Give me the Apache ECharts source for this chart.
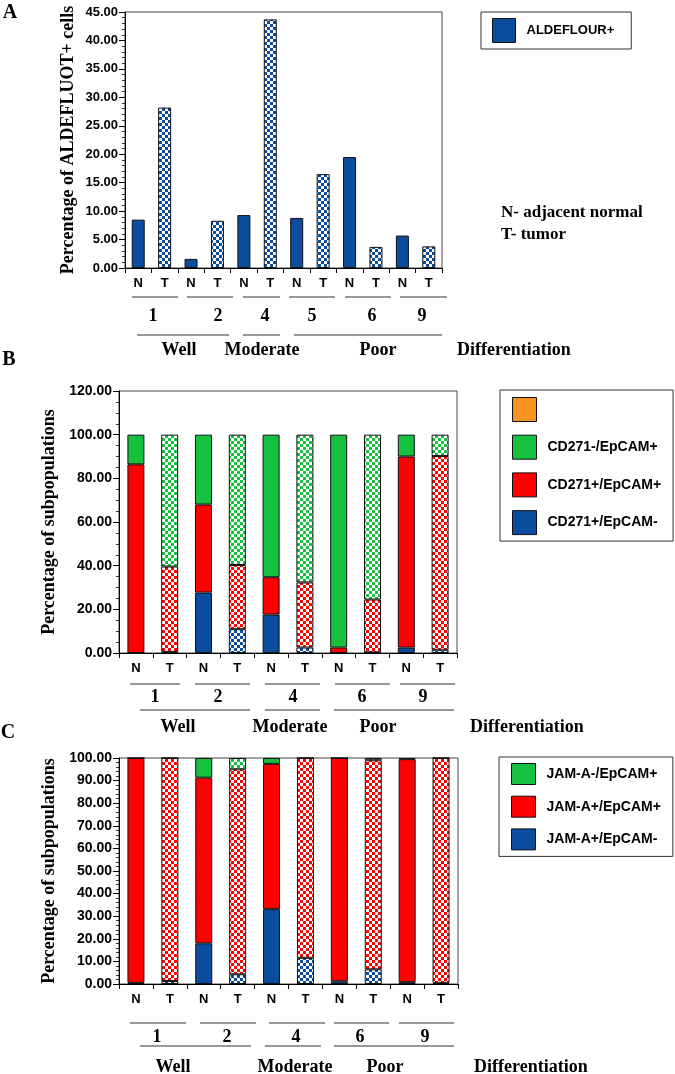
<!DOCTYPE html>
<html><head><meta charset="utf-8">
<script src="https://cdn.jsdelivr.net/npm/echarts@6/dist/echarts.min.js"></script>
<style>html,body{margin:0;padding:0;background:#fff}#c{width:675px;height:1074px}</style>
</head><body><div id="c"></div>
<script>
// ---------- DATA ----------
const categoriesA = ['N1','T1','N2','T2','N4','T4','N5','T5','N6','T6','N9','T9'];
const aldefluorPos = [8.5, 28.2, 1.6, 8.3, 9.3, 43.7, 8.8, 16.5, 19.5, 3.7, 5.7, 3.8];

const categoriesBC = ['N1','T1','N2','T2','N4','T4','N6','T6','N9','T9'];
const cd271PosEpcamNeg = [0, 0.5, 27.7, 10.9, 17.6, 2.5, 0, 0.3, 2.5, 1.5];
const cd271PosEpcamPos = [86.4, 39.1, 40.3, 29.4, 17.1, 29.8, 2.5, 24.2, 87.5, 88.7];
const cd271NegEpcamPos = [13.6, 60.4, 32.0, 59.7, 65.3, 67.7, 97.5, 75.5, 10.0, 9.8];

const jamPosEpcamNeg = [0.5, 1.3, 18.0, 4.3, 33.1, 11.6, 1.2, 6.5, 0.8, 0.5];
const jamPosEpcamPos = [99.5, 98.7, 73.3, 90.7, 64.3, 88.4, 98.8, 92.5, 98.7, 99.5];
const jamNegEpcamPos = [0, 0, 8.7, 5.0, 2.6, 0, 0, 1.0, 0.5, 0];

const patientsA = ['1','2','4','5','6','9'];
const patientsBC = ['1','2','4','6','9'];
const grades = ['Well','Moderate','Poor'];
const gradeTitle = 'Differentiation';

// ---------- STYLE ----------
const BLUE = '#0b4c9f', RED = '#fe0000', GREEN = '#15c13f', ORANGE = '#f7931e';
const SANS = '"Liberation Sans", Arial, sans-serif';
const SERIF = '"Liberation Serif", "Times New Roman", serif';

function checker(color){
  const c = document.createElement('canvas'); c.width = 6; c.height = 6;
  const g = c.getContext('2d');
  g.fillStyle = '#fff'; g.fillRect(0,0,6,6);
  g.fillStyle = color; g.fillRect(0,0,3,3); g.fillRect(3,3,3,3);
  return {image: c, repeat: 'repeat'};
}
function withPattern(values, cats, color){
  return values.map((v,i) => cats[i][0] === 'T' ? {value: v, itemStyle: {color: checker(color)}} : v);
}

const barBorder = {borderColor: '#111', borderWidth: 1};
function xAxisCfg(gi, cats, margin){
  return {gridIndex: gi, type: 'category', data: cats,
    axisLine: {lineStyle: {color: '#000', width: 1}},
    axisTick: {show: true, length: 5, lineStyle: {color: '#000'}},
    axisLabel: {interval: 0, formatter: v => v[0], fontFamily: SANS, fontWeight: 'bold', fontSize: 13, color: '#000', margin: margin}};
}
function yAxisCfg(gi, max, interval, minorSplit, fs, name, gap){
  return {gridIndex: gi, type: 'value', min: 0, max: max, interval: interval,
    splitLine: {show: false},
    axisLine: {show: true, lineStyle: {color: '#000', width: 1}},
    axisTick: {show: true, length: 6, lineStyle: {color: '#000'}},
    minorTick: {show: true, splitNumber: minorSplit, length: 3, lineStyle: {color: '#333'}},
    axisLabel: {formatter: v => v.toFixed(2), fontFamily: SANS, fontWeight: 'bold', fontSize: fs, color: '#000', margin: 7},
    name: name, nameLocation: 'middle', nameGap: gap,
    nameTextStyle: {fontFamily: SERIF, fontWeight: 'bold', fontSize: 18, color: '#000'}};
}

// ---------- ANNOTATION LAYOUT (pixels) ----------
function annot(cfg){
  const els = [];
  const line = (x1,x2,y) => els.push({type:'line', shape:{x1:x1,y1:y,x2:x2,y2:y}, style:{stroke:'#333', lineWidth:1}});
  const text = (t,x,y,align) => els.push({type:'text', x:x, y:y, style:{text:t, fill:'#000', font:'bold 18px ' + SERIF, textAlign: align || 'center', textVerticalAlign:'middle'}});
  cfg.pairLines.forEach(s => line(s[0], s[1], cfg.pairY));
  cfg.labels.forEach((t,i) => text(t, cfg.labelX[i], cfg.labelY));
  cfg.groupLines.forEach(s => line(s[0], s[1], cfg.groupY));
  cfg.grades.forEach((t,i) => text(t, cfg.gradeX[i], cfg.gradeY));
  text(gradeTitle, cfg.diffX, cfg.gradeY, 'left');
  return els;
}
const annA = {pairY: 297, pairLines: [[132,178],[187,233],[243,280],[289,335],[345,391],[400,447]],
  labels: patientsA, labelX: [153,218,265,312,372,422], labelY: 316,
  groupY: 335, groupLines: [[137,229],[243,280],[294,442]],
  grades: grades, gradeX: [179,262,378], gradeY: 350, diffX: 457};
const annB = {pairY: 684, pairLines: [[130,180],[195,250],[265,320],[335,390],[400,455]],
  labels: patientsBC, labelX: [155,218,293,362,423], labelY: 697,
  groupY: 710, groupLines: [[140,250],[265,320],[334,454]],
  grades: grades, gradeX: [178,290,378], gradeY: 727, diffX: 470};
const annC = {pairY: 1023, pairLines: [[130,186],[200,256],[269,325],[334,389],[399,454]],
  labels: patientsBC, labelX: [157,227,296,360,425], labelY: 1037,
  groupY: 1046, groupLines: [[140,251],[265,321],[334,454]],
  grades: grades, gradeX: [173,295,385], gradeY: 1067, diffX: 474};

const panelText = (t,x,y,size) => ({type:'text', x:x, y:y, style:{text:t, fill:'#000', font:'bold ' + (size||18) + 'px ' + SERIF, textAlign:'center', textVerticalAlign:'middle'}});

const graphics = [].concat(annot(annA), annot(annB), annot(annC), [
  panelText('A', 10, 13, 20), panelText('B', 9, 360, 20), panelText('C', 8, 733, 20),
  {type:'text', x:501, y:213, style:{text:'N- adjacent normal', fill:'#000', font:'bold 17px ' + SERIF, textVerticalAlign:'middle'}},
  {type:'text', x:501, y:235, style:{text:'T- tumor', fill:'#000', font:'bold 17px ' + SERIF, textVerticalAlign:'middle'}}
]);

const legendText = {fontFamily: SANS, fontWeight: 'bold', fontSize: 14, color: '#000', padding: [0,0,0,6]};
const option = {
  animation: false,
  backgroundColor: '#fff',
  grid: [
    {left: 125, top: 12, width: 317, height: 256, show: true, borderColor: '#444', borderWidth: 1},
    {left: 119, top: 391, width: 338, height: 262, show: true, borderColor: '#444', borderWidth: 1},
    {left: 119, top: 758, width: 339, height: 226, show: true, borderColor: '#444', borderWidth: 1}
  ],
  xAxis: [xAxisCfg(0, categoriesA, 9), xAxisCfg(1, categoriesBC, 9), xAxisCfg(2, categoriesBC, 9)],
  yAxis: [
    yAxisCfg(0, 45, 5, 5, 13, 'Percentage of ALDEFLUOT+ cells', 48),
    yAxisCfg(1, 120, 20, 4, 14, 'Percentage of subpopulations', 59),
    yAxisCfg(2, 100, 10, 5, 14, 'Percentage of subpopulations', 59)
  ],
  legend: [
    {data: ['ALDEFLOUR+'], left: 481, top: 12, orient: 'vertical', itemWidth: 23, itemHeight: 24, icon: 'rect',
     padding: [6,17,6,11], borderColor: '#333', borderWidth: 1, textStyle: Object.assign({}, legendText, {fontSize: 13}),
     itemStyle: {borderColor: '#111', borderWidth: 1}, selectedMode: false},
    {data: [' ', 'CD271-/EpCAM+', 'CD271+/EpCAM+', 'CD271+/EpCAM-'], left: 500, top: 390, orient: 'vertical', icon: 'rect',
     itemWidth: 24, itemHeight: 24, itemGap: 12.7, padding: [7,12,6,12], borderColor: '#333', borderWidth: 1,
     textStyle: legendText, itemStyle: {borderColor: '#111', borderWidth: 1}, selectedMode: false},
    {data: ['JAM-A-/EpCAM+', 'JAM-A+/EpCAM+', 'JAM-A+/EpCAM-'], left: 499, top: 757, orient: 'vertical', icon: 'rect',
     itemWidth: 24, itemHeight: 21, itemGap: 10.7, padding: [6,12,6,12], borderColor: '#333', borderWidth: 1,
     textStyle: legendText, itemStyle: {borderColor: '#111', borderWidth: 1}, selectedMode: false}
  ],
  series: [
    {name: 'ALDEFLOUR+', type: 'bar', xAxisIndex: 0, yAxisIndex: 0, barWidth: 13, color: BLUE,
     itemStyle: barBorder, data: withPattern(aldefluorPos, categoriesA, BLUE)},
    {name: ' ', type: 'bar', xAxisIndex: 1, yAxisIndex: 1, stack: 'b', color: ORANGE, itemStyle: barBorder, data: []},
    {name: 'CD271+/EpCAM-', type: 'bar', xAxisIndex: 1, yAxisIndex: 1, stack: 'b', barWidth: 17, color: BLUE,
     itemStyle: barBorder, data: withPattern(cd271PosEpcamNeg, categoriesBC, BLUE)},
    {name: 'CD271+/EpCAM+', type: 'bar', xAxisIndex: 1, yAxisIndex: 1, stack: 'b', barWidth: 17, color: RED,
     itemStyle: barBorder, data: withPattern(cd271PosEpcamPos, categoriesBC, RED)},
    {name: 'CD271-/EpCAM+', type: 'bar', xAxisIndex: 1, yAxisIndex: 1, stack: 'b', barWidth: 17, color: GREEN,
     itemStyle: barBorder, data: withPattern(cd271NegEpcamPos, categoriesBC, GREEN)},
    {name: 'JAM-A+/EpCAM-', type: 'bar', xAxisIndex: 2, yAxisIndex: 2, stack: 'c', barWidth: 17, color: BLUE,
     itemStyle: barBorder, data: withPattern(jamPosEpcamNeg, categoriesBC, BLUE)},
    {name: 'JAM-A+/EpCAM+', type: 'bar', xAxisIndex: 2, yAxisIndex: 2, stack: 'c', barWidth: 17, color: RED,
     itemStyle: barBorder, data: withPattern(jamPosEpcamPos, categoriesBC, RED)},
    {name: 'JAM-A-/EpCAM+', type: 'bar', xAxisIndex: 2, yAxisIndex: 2, stack: 'c', barWidth: 17, color: GREEN,
     itemStyle: barBorder, data: withPattern(jamNegEpcamPos, categoriesBC, GREEN)}
  ],
  graphic: graphics
};
const chart = echarts.init(document.getElementById('c'), null, {renderer: 'canvas'});
chart.setOption(option);
</script></body></html>
